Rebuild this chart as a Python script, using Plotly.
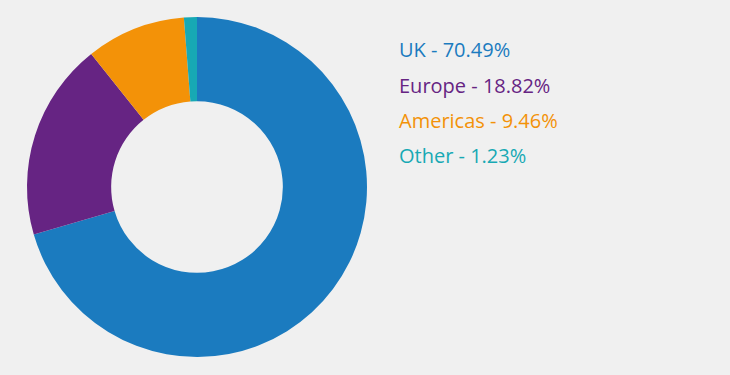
import plotly.graph_objects as go

categories = ["UK", "Europe", "Americas", "Other"]
values = [70.49, 18.82, 9.46, 1.23]
colors = ["#1b7bbf", "#662483", "#f39208", "#17a9b4"]

W, H = 730, 375
fig = go.Figure(go.Pie(
    labels=categories, values=values, sort=False, direction="clockwise", rotation=0,
    hole=0.505, marker=dict(colors=colors, line=dict(width=0)),
    textinfo="none", hoverinfo="label+percent", showlegend=False,
    domain=dict(x=[(197 - 170) / W, (197 + 170) / W], y=[(H - 187 - 170) / H, (H - 187 + 170) / H]),
))

y0, dy = 50, 35
for i, (c, v, col) in enumerate(zip(categories, values, colors)):
    fig.add_annotation(
        x=397 / W, y=1 - (y0 + i * dy) / H, xref="paper", yref="paper",
        xanchor="left", yanchor="middle", showarrow=False,
        text=f"{c} - {v:.2f}%", font=dict(family="Open Sans", size=20, color=col, weight=500),
    )

fig.update_layout(
    width=W, height=H, margin=dict(l=0, r=0, t=0, b=0),
    paper_bgcolor="#f0f0f0", plot_bgcolor="#f0f0f0",
)
fig.write_html(
    "out.html",
    config={"displayModeBar": False},
    post_script="document.body.style.margin='0';document.body.style.background='#f0f0f0';",
)
